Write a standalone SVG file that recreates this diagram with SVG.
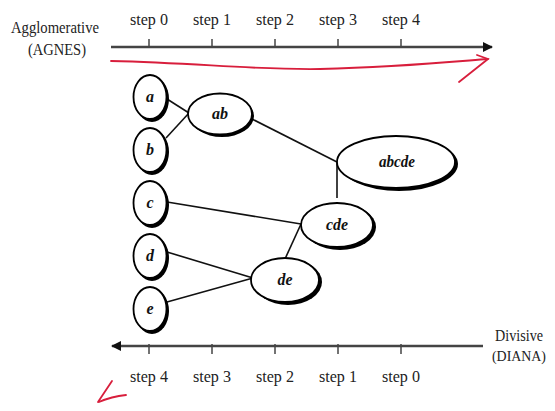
<svg xmlns="http://www.w3.org/2000/svg" width="555" height="411" viewBox="0 0 555 411">
<defs>
<style>
.lbl{font-family:"Liberation Serif","Times New Roman",serif;font-size:16.5px;fill:#222;text-anchor:middle}
.nl{font-family:"Liberation Serif","Times New Roman",serif;font-size:16px;font-style:italic;font-weight:bold;fill:#111;text-anchor:middle}
.axis{stroke:#444;stroke-width:2.5;fill:none}
.tick{stroke:#444;stroke-width:1.5}
.edge{stroke:#111;stroke-width:1.6;fill:none}
.sh{fill:#000}
.nd{fill:#fff;stroke:#000;stroke-width:1.8}
.red{stroke:#d81e3c;stroke-width:1.8;fill:none;stroke-linecap:round}
</style>
<marker id="ah" markerWidth="10" markerHeight="10" refX="9" refY="5" orient="auto" markerUnits="userSpaceOnUse">
<path d="M0,0 L10,5 L0,10 Z" fill="#111"/>
</marker>
</defs>
<rect width="555" height="411" fill="#fff"/>

<g id="top-axis">
<text class="lbl" x="55" y="33" textLength="88" lengthAdjust="spacingAndGlyphs">Agglomerative</text>
<text class="lbl" x="57" y="55" textLength="58" lengthAdjust="spacingAndGlyphs">(AGNES)</text>
<line class="axis" x1="111" y1="47" x2="492" y2="47" marker-end="url(#ah)"/>
<line class="tick" x1="149" y1="39" x2="149" y2="47"/>
<line class="tick" x1="212" y1="39" x2="212" y2="47"/>
<line class="tick" x1="275" y1="39" x2="275" y2="47"/>
<line class="tick" x1="338" y1="39" x2="338" y2="47"/>
<line class="tick" x1="401" y1="39" x2="401" y2="47"/>
<text class="lbl" x="149" y="25" textLength="38" lengthAdjust="spacingAndGlyphs">step 0</text>
<text class="lbl" x="212" y="25" textLength="38" lengthAdjust="spacingAndGlyphs">step 1</text>
<text class="lbl" x="275" y="25" textLength="38" lengthAdjust="spacingAndGlyphs">step 2</text>
<text class="lbl" x="338" y="25" textLength="38" lengthAdjust="spacingAndGlyphs">step 3</text>
<text class="lbl" x="401" y="25" textLength="38" lengthAdjust="spacingAndGlyphs">step 4</text>
<path class="red" d="M111,61 C200,63 250,70 320,69 C400,67 450,62 488,59"/>
<path class="red" d="M459,82 L488,59 L477,55"/>
</g>

<g id="bottom-axis">
<line class="axis" x1="483" y1="346" x2="112" y2="346" marker-end="url(#ah)"/>
<line class="tick" x1="149" y1="344" x2="149" y2="354"/>
<line class="tick" x1="212" y1="344" x2="212" y2="354"/>
<line class="tick" x1="275" y1="344" x2="275" y2="354"/>
<line class="tick" x1="338" y1="344" x2="338" y2="354"/>
<line class="tick" x1="401" y1="344" x2="401" y2="354"/>
<text class="lbl" x="149" y="382" textLength="38" lengthAdjust="spacingAndGlyphs">step 4</text>
<text class="lbl" x="212" y="382" textLength="38" lengthAdjust="spacingAndGlyphs">step 3</text>
<text class="lbl" x="275" y="382" textLength="38" lengthAdjust="spacingAndGlyphs">step 2</text>
<text class="lbl" x="338" y="382" textLength="38" lengthAdjust="spacingAndGlyphs">step 1</text>
<text class="lbl" x="401" y="382" textLength="38" lengthAdjust="spacingAndGlyphs">step 0</text>
<text class="lbl" x="519" y="341" textLength="48" lengthAdjust="spacingAndGlyphs">Divisive</text>
<text class="lbl" x="519" y="361" style="font-size:15px" textLength="54" lengthAdjust="spacingAndGlyphs">(DIANA)</text>
<path class="red" d="M112,381 L98,402 M99,402 C108,398 116,396 126,395"/>
</g>

<g id="connectors">
<line class="edge" x1="167" y1="99" x2="189" y2="113"/>
<line class="edge" x1="166" y1="138" x2="189" y2="113"/>
<line class="edge" x1="252" y1="119" x2="337" y2="162"/>
<line class="edge" x1="337" y1="162" x2="337" y2="198"/>
<line class="edge" x1="167" y1="202" x2="301" y2="224"/>
<line class="edge" x1="301" y1="224" x2="285" y2="259"/>
<line class="edge" x1="167" y1="252" x2="253" y2="278"/>
<line class="edge" x1="167" y1="302" x2="253" y2="278"/>
</g>

<g id="node-a">
<ellipse class="sh" cx="152" cy="99" rx="17" ry="23"/>
<ellipse class="nd" cx="150" cy="97" rx="16.5" ry="22"/>
<text class="nl" x="150" y="102" font-weight="normal">a</text>
</g>
<g id="node-b">
<ellipse class="sh" cx="152" cy="152" rx="17" ry="23"/>
<ellipse class="nd" cx="150" cy="150" rx="16.5" ry="22"/>
<text class="nl" x="150" y="155" font-weight="normal">b</text>
</g>
<g id="node-c">
<ellipse class="sh" cx="152" cy="205" rx="17" ry="23"/>
<ellipse class="nd" cx="150" cy="203" rx="16.5" ry="22"/>
<text class="nl" x="150" y="208" font-weight="normal">c</text>
</g>
<g id="node-d">
<ellipse class="sh" cx="152" cy="258" rx="17" ry="23"/>
<ellipse class="nd" cx="150" cy="256" rx="16.5" ry="22"/>
<text class="nl" x="150" y="261" font-weight="normal">d</text>
</g>
<g id="node-e">
<ellipse class="sh" cx="152" cy="311" rx="17" ry="23"/>
<ellipse class="nd" cx="150" cy="309" rx="16.5" ry="22"/>
<text class="nl" x="150" y="314" font-weight="normal">e</text>
</g>
<g id="node-ab">
<ellipse class="sh" cx="222" cy="116" rx="32" ry="21"/>
<ellipse class="nd" cx="220" cy="114" rx="32" ry="20.5"/>
<text class="nl" x="220" y="119" textLength="16" lengthAdjust="spacingAndGlyphs">ab</text>
</g>
<g id="node-abcde">
<ellipse class="sh" cx="399" cy="164" rx="59" ry="27"/>
<ellipse class="nd" cx="396" cy="162" rx="59" ry="26"/>
<text class="nl" x="397" y="167" textLength="36" lengthAdjust="spacingAndGlyphs">abcde</text>
</g>
<g id="node-cde">
<ellipse class="sh" cx="340" cy="227" rx="36" ry="23"/>
<ellipse class="nd" cx="337" cy="225" rx="36" ry="22"/>
<text class="nl" x="337" y="230" textLength="22" lengthAdjust="spacingAndGlyphs">cde</text>
</g>
<g id="node-de">
<ellipse class="sh" cx="288" cy="282" rx="34" ry="23"/>
<ellipse class="nd" cx="285" cy="280" rx="34" ry="22"/>
<text class="nl" x="285" y="285" textLength="15" lengthAdjust="spacingAndGlyphs">de</text>
</g>
</svg>
